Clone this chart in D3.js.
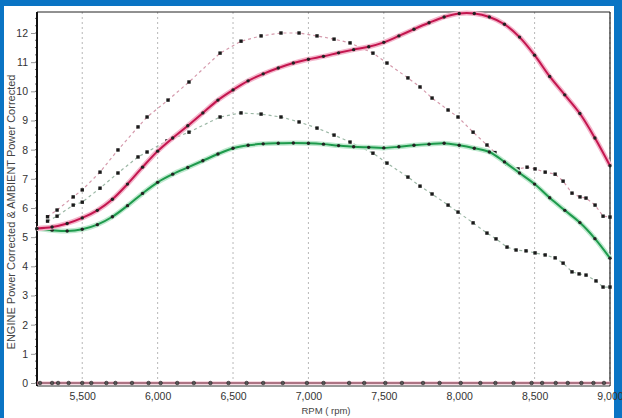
<!DOCTYPE html>
<html><head><meta charset="utf-8">
<script src="https://cdn.jsdelivr.net/npm/d3@7"></script>
<style>html,body{margin:0;padding:0;background:#0a74c4;}svg{display:block;}</style>
</head><body>
<svg id="c" width="622" height="418"></svg>
<script>
// ---- data ----
const rpmGrid = [5200,5300,5400,5500,5600,5700,5800,5900,6000,6100,6200,6300,6400,6500,6600,6700,6800,6900,7000,7100,7200,7300,7400,7500,7600,7700,7800,7900,8000,8100,8200,8300,8400,8500,8600,8700,8800,8900,9000];
const engineSolid = [5.3,5.35,5.47,5.66,5.92,6.3,6.82,7.4,7.95,8.4,8.82,9.26,9.7,10.05,10.36,10.6,10.8,10.97,11.1,11.2,11.32,11.43,11.53,11.68,11.9,12.13,12.35,12.55,12.67,12.67,12.55,12.3,11.86,11.24,10.51,9.88,9.24,8.4,7.45];
const ambientSolid = [5.3,5.24,5.21,5.27,5.43,5.7,6.08,6.5,6.88,7.16,7.39,7.62,7.85,8.05,8.15,8.2,8.22,8.23,8.22,8.19,8.14,8.1,8.08,8.06,8.1,8.15,8.19,8.22,8.15,8.05,7.92,7.58,7.2,6.82,6.35,5.92,5.5,4.95,4.28];
const upperRpm = [5270,5333,5440,5500,5618,5737,5870,5930,6069,6208,6414,6553,6686,6818,6938,7057,7170,7276,7428,7521,7660,7740,7820,7926,7992,8092,8184,8237,8317,8390,8450,8503,8570,8636,8689,8748,8801,8841,8901,8954,9000];
const upperDotted = [5.7,5.93,6.38,6.62,7.23,7.99,8.78,9.12,9.7,10.32,11.31,11.72,11.9,12.0,12.0,11.9,11.79,11.66,11.31,10.97,10.46,10.15,9.77,9.36,9.12,8.6,8.16,7.9,7.5,7.34,7.4,7.34,7.23,7.16,6.92,6.51,6.38,6.34,6.1,5.72,5.69];
const lowerRpm = [5270,5333,5440,5500,5618,5737,5870,5930,6062,6208,6414,6553,6686,6818,6938,7057,7170,7276,7428,7521,7660,7740,7820,7926,7992,8092,8184,8244,8317,8377,8443,8503,8570,8636,8689,8748,8795,8841,8907,8954,9000];
const lowerDotted = [5.55,5.72,6.1,6.2,6.68,7.2,7.75,7.92,8.3,8.6,9.12,9.26,9.22,9.12,8.95,8.74,8.5,8.26,7.88,7.54,7.06,6.75,6.48,6.1,5.86,5.49,5.14,4.94,4.66,4.56,4.53,4.46,4.39,4.29,4.11,3.81,3.74,3.7,3.5,3.29,3.29];
const zeroRpm = [5220,5300,5340,5410,5500,5560,5660,5720,5830,5940,6020,6130,6240,6350,6470,6590,6700,6830,6990,7100,7270,7370,7510,7620,7760,7870,8010,8140,8240,8360,8480,8550,8640,8720,8810,8890,8960];
const zeroVals = zeroRpm.map(() => 0);
const xTicks = [5500,6000,6500,7000,7500,8000,8500,9000];
const yTicks = [0,1,2,3,4,5,6,7,8,9,10,11,12];
const yTitle = "ENGINE Power Corrected & AMBIENT Power Corrected";
const xTitle = "RPM ( rpm)";

// ---- layout ----
const svg = d3.select("#c");
const L = 37, R = 610, T = 12, B = 386;
const x = d3.scaleLinear().domain([5200, 9000]).range([L, R]);
const y = d3.scaleLinear().domain([0, 12]).range([383, 33]);
const font = "Liberation Sans, Arial, sans-serif";

svg.append("rect").attr("x",4).attr("y",6).attr("width",610).attr("height",412).attr("fill","#ffffff");

// vertical dotted gridlines
svg.append("g").selectAll("line").data(xTicks).join("line")
  .attr("x1",d=>x(d)).attr("x2",d=>x(d)).attr("y1",T).attr("y2",B)
  .attr("stroke","#b8b8b8").attr("stroke-width",1).attr("stroke-dasharray","2,3");

// frame
svg.append("line").attr("x1",L).attr("x2",R).attr("y1",T).attr("y2",T).attr("stroke","#222").attr("stroke-width",1);
svg.append("line").attr("x1",R).attr("x2",R).attr("y1",T).attr("y2",B).attr("stroke","#222").attr("stroke-width",1.2);
svg.append("line").attr("x1",L).attr("x2",R).attr("y1",B).attr("y2",B).attr("stroke","#333").attr("stroke-width",1);

// y axis
const yAxis = d3.axisLeft(y).tickValues(yTicks).tickSize(4).tickPadding(3).tickFormat(d3.format("d"));
const gy = svg.append("g").attr("transform",`translate(${L-2},0)`).call(yAxis);
gy.select(".domain").remove();
gy.selectAll(".tick line").attr("stroke","#999");
gy.selectAll(".tick text").attr("fill","#333").style("font-family",font).style("font-size","10.5px");
// minor ticks
const minor = d3.range(0, 12.75, 0.25);
svg.append("g").selectAll("line").data(minor).join("line")
  .attr("x1",L-2).attr("x2",L).attr("y1",d=>y(d)).attr("y2",d=>y(d)).attr("stroke","#444").attr("stroke-width",0.8);
svg.append("line").attr("x1",L).attr("x2",L).attr("y1",T).attr("y2",B).attr("stroke","#111").attr("stroke-width",2);

// x axis labels
const xAxis = d3.axisBottom(x).tickValues(xTicks).tickSize(0).tickPadding(7).tickFormat(d3.format(","));
const gx = svg.append("g").attr("transform",`translate(0,${B})`).call(xAxis);
gx.select(".domain").remove();
gx.selectAll(".tick text").attr("fill","#333").style("font-family",font).style("font-size","10.5px");

// titles
svg.append("text").attr("transform","translate(15,212) rotate(-90)").attr("text-anchor","middle")
  .style("font-family",font).style("font-size","11px").attr("fill","#444").text(yTitle);
svg.append("text").attr("x",326).attr("y",414).attr("text-anchor","middle")
  .style("font-family",font).style("font-size","9.5px").attr("fill","#444").text(xTitle);

// helpers
function pairs(xs, ys){ return xs.map((v,i)=>[v, ys[i]]); }
const lineSmooth = d3.line().x(d=>x(d[0])).y(d=>y(d[1])).curve(d3.curveCatmullRom);
const lineStraight = d3.line().x(d=>x(d[0])).y(d=>y(d[1]));

// zero series
const zp = pairs(zeroRpm, zeroVals);
svg.append("line").attr("x1",L).attr("x2",R).attr("y1",y(0)).attr("y2",y(0)).attr("stroke","#efb8c8").attr("stroke-width",3);
svg.append("line").attr("x1",L).attr("x2",R).attr("y1",y(0)).attr("y2",y(0)).attr("stroke","#6a3040").attr("stroke-width",1);
svg.append("g").selectAll("circle").data(zp).join("circle")
  .attr("cx",d=>x(d[0])).attr("cy",d=>y(d[1])).attr("r",1.8).attr("fill","#555").attr("stroke","#222").attr("stroke-width",0.6);

// dotted series
function dotted(xs, ys, color){
  const p = pairs(xs, ys);
  svg.append("path").datum(p).attr("d",lineStraight).attr("fill","none").attr("stroke",color)
    .attr("stroke-width",1.2).attr("stroke-dasharray","3,3");
  svg.append("g").selectAll("rect").data(p).join("rect")
    .attr("x",d=>x(d[0])-1.7).attr("y",d=>y(d[1])-1.7).attr("width",3.4).attr("height",3.4).attr("fill","#1a1a1a");
}
dotted(upperRpm, upperDotted, "#d59aac");
dotted(lowerRpm, lowerDotted, "#9cb8a6");

// solid series
function solid(ys, color, halo){
  const p = pairs(rpmGrid, ys);
  svg.append("path").datum(p).attr("d",lineSmooth).attr("fill","none").attr("stroke",halo).attr("stroke-width",5).attr("stroke-linejoin","round");
  svg.append("path").datum(p).attr("d",lineSmooth).attr("fill","none").attr("stroke",color).attr("stroke-width",2).attr("stroke-linejoin","round");
  svg.append("g").selectAll("circle").data(p).join("circle")
    .attr("cx",d=>x(d[0])).attr("cy",d=>y(d[1])).attr("r",1.7).attr("fill","#222");
}
solid(ambientSolid, "#1e9a4c", "#bfe9cf");
solid(engineSolid, "#c4164f", "#f3b6cb");
</script>
</body></html>
